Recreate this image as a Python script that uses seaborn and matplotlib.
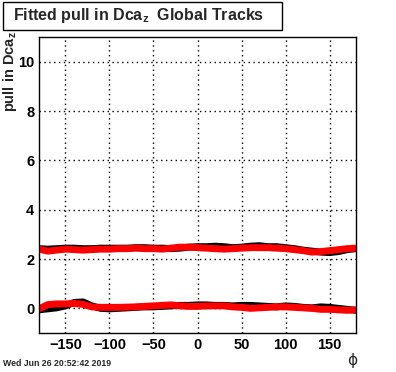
import numpy as np
import pandas as pd
import seaborn as sns
import matplotlib.pyplot as plt
from matplotlib.patches import Rectangle
from matplotlib.ticker import MultipleLocator

# phi bins (degrees)
phi = [-180, -170, -160, -150, -140, -130, -120, -110, -100, -90, -80, -70, -60,
       -50, -40, -30, -20, -10, 0, 10, 20, 30, 40, 50, 60, 70, 80, 90, 100, 110,
       120, 130, 140, 150, 160, 170, 180]

# upper band (black drawn first, red on top)
upper_black = [2.42, 2.40, 2.42, 2.44, 2.44, 2.42, 2.42, 2.44, 2.44, 2.44, 2.44, 2.46,
               2.46, 2.44, 2.44, 2.42, 2.44, 2.48, 2.50, 2.50, 2.52, 2.50, 2.46, 2.48,
               2.52, 2.54, 2.50, 2.50, 2.46, 2.42, 2.36, 2.32, 2.28, 2.26, 2.30, 2.38, 2.42]
upper_red = [2.40, 2.32, 2.36, 2.40, 2.38, 2.36, 2.38, 2.40, 2.40, 2.42, 2.42, 2.44,
             2.42, 2.42, 2.40, 2.44, 2.48, 2.48, 2.46, 2.44, 2.42, 2.40, 2.42, 2.44,
             2.46, 2.46, 2.46, 2.44, 2.42, 2.38, 2.34, 2.28, 2.30, 2.34, 2.38, 2.42, 2.44]

# lower band
lower_black = [-0.06, -0.02, 0.02, 0.10, 0.24, 0.26, 0.10, 0.00, -0.02, 0.00, 0.02, 0.04,
               0.06, 0.06, 0.08, 0.10, 0.12, 0.12, 0.14, 0.14, 0.12, 0.12, 0.10, 0.12,
               0.12, 0.10, 0.08, 0.06, 0.10, 0.08, 0.04, 0.02, 0.06, 0.04, 0.00, -0.04, -0.08]
lower_red = [-0.02, 0.15, 0.18, 0.18, 0.20, 0.16, 0.06, 0.04, 0.04, 0.04, 0.05, 0.06,
             0.08, 0.10, 0.12, 0.14, 0.10, 0.08, 0.08, 0.10, 0.10, 0.10, 0.06, 0.04,
             0.00, 0.02, 0.04, 0.06, 0.06, 0.04, 0.02, 0.00, -0.04, -0.04, -0.06, -0.08, -0.06]

sns.set_style("white")
plt.rcParams['font.family'] = ['Liberation Sans', 'DejaVu Sans']
plt.rcParams['mathtext.fontset'] = 'custom'
plt.rcParams['mathtext.rm'] = 'Liberation Sans:bold'
plt.rcParams['mathtext.it'] = 'Liberation Sans:bold'
plt.rcParams['mathtext.bf'] = 'Liberation Sans:bold'

fig = plt.figure(figsize=(3.96, 3.72), dpi=100)
ax = fig.add_axes([0.0985, 0.1048, 0.8005, 0.7957])

df = pd.DataFrame({'phi': phi, 'ub': upper_black, 'ur': upper_red,
                   'lb': lower_black, 'lr': lower_red})

for col, color in [('ub', 'black'), ('lb', 'black'), ('ur', 'red'), ('lr', 'red')]:
    sns.lineplot(data=df, x='phi', y=col, ax=ax, color=color, linewidth=5,
                 legend=False)

ax.set_xlim(-180, 180)
ax.set_ylim(-1, 11)
ax.xaxis.set_major_locator(MultipleLocator(50))
ax.xaxis.set_minor_locator(MultipleLocator(10))
ax.yaxis.set_major_locator(MultipleLocator(2))
ax.yaxis.set_minor_locator(MultipleLocator(0.5))
ax.tick_params(which='both', direction='in', top=False, right=False, colors='black',
               labelsize=10.5, width=1)
ax.tick_params(which='major', length=6)
ax.tick_params(which='minor', length=3)
for lab in ax.get_xticklabels() + ax.get_yticklabels():
    lab.set_fontweight('bold')
ax.grid(True, which='major', color='black', linestyle=(0, (1, 2.5)), linewidth=1)
for s in ax.spines.values():
    s.set_color('black')
    s.set_linewidth(1)

ax.set_xlabel('')
ax.set_ylabel('')
fig.text(0.026, 0.915, 'pull in Dca$_z$', rotation=90, ha='center', va='top',
         fontsize=10.5, fontweight='bold')
fig.text(0.889, 0.01, '\u03d5', ha='center', va='bottom', fontsize=11,
         family=['DejaVu Sans'])
fig.text(0.008, 0.012, 'Wed Jun 26 20:52:42 2019', ha='left', va='bottom',
         fontsize=6.3, fontweight='bold')

# title box
fig.patches.append(Rectangle((0.0076, 0.919), 0.7045, 0.0753, transform=fig.transFigure,
                             facecolor='white', edgecolor='black', linewidth=1))
fig.text(0.033, 0.957, 'Fitted pull in Dca$_z$  Global Tracks', ha='left', va='center',
         fontsize=11.5, fontweight='bold')

fig.savefig('out.png', dpi=100)
